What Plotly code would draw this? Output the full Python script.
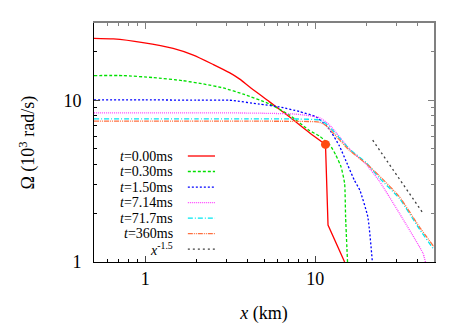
import plotly.graph_objects as go
import numpy as np

# radial profiles of the angular velocity at several times
x_t000 = [0.5, 0.65, 0.97, 1.46, 1.92, 2.52, 3.13, 3.6, 4.1, 5.37, 7.05, 9.25, 11.5, 11.9, 14.9]
y_t000 = [24.1, 23.9, 22.7, 20.9, 19.0, 16.6, 14.8, 13.5, 12.1, 9.8, 7.9, 6.3, 5.33, 1.69, 1.0]

x_t030 = [0.5, 0.74, 1.11, 1.67, 2.2, 2.88, 3.78, 5.37, 7.05, 9.25, 10.6, 12.2, 13.2, 14.2, 14.9, 15.1, 15.5]
y_t030 = [14.2, 14.2, 13.8, 13.2, 12.6, 11.9, 10.9, 9.5, 8.1, 6.5, 6.0, 5.3, 4.6, 3.87, 3.06, 1.9, 1.0]

x_t150 = [0.5, 1, 2, 3.13, 4.7, 6.15, 8.1, 10.1, 11.6, 12.5, 13.9, 15.5, 17, 18.3, 20.4, 21.7]
y_t150 = [10.05, 10.05, 10.0, 10.0, 9.45, 9.1, 8.5, 7.9, 7.0, 6.3, 5.2, 4.0, 3.2, 2.78, 1.9, 1.0]

x_t714 = [0.5, 1, 2, 4, 7.7, 10.6, 12.2, 15.9, 20, 23.9, 31.3, 43.1, 44.5]
y_t714 = [8.35, 8.35, 8.35, 8.33, 8.2, 7.8, 7.0, 5.0, 4.0, 3.15, 2.0, 1.13, 1.0]

x_t717 = [0.5, 1, 2, 4, 8, 10.5, 11.5, 12.7, 15.9, 20, 23.9, 31.3, 41, 50]
y_t717 = [7.67, 7.67, 7.67, 7.67, 7.65, 7.55, 7.2, 6.5, 5.0, 4.1, 3.3, 2.47, 1.6, 1.19]

x_t360 = [0.5, 1, 2, 4, 8, 10.5, 11.5, 12.7, 15.9, 20, 23.9, 31.3, 41, 50]
y_t360 = [7.42, 7.42, 7.42, 7.42, 7.4, 7.33, 7.0, 6.3, 4.9, 4.05, 3.4, 2.53, 1.65, 1.24]

x_pow = [21.8, 43.1]
y_pow = [5.66, 2.0]

x_mark = [11.5]
y_mark = [5.33]

labels = ["<i>t</i>=0.00ms", "<i>t</i>=0.30ms", "<i>t</i>=1.50ms", "<i>t</i>=7.14ms",
          "<i>t</i>=71.7ms", "<i>t</i>=360ms", "<i>x</i><sup>-1.5</sup>"]

series = [
    (x_t000, y_t000, "#ff0000", "solid"),
    (x_t030, y_t030, "#00e000", "3px,2px"),
    (x_t150, y_t150, "#0000ff", "2px,2px"),
    (x_t714, y_t714, "#ff40ff", "1px,1px"),
    (x_t717, y_t717, "#00e8f0", "5px,2px,1px,2px"),
    (x_t360, y_t360, "#ff7040", "5px,1px,1px,1px,1px,1px"),
    (x_pow, y_pow, "#404040", "2px,3px"),
]

FONT = "Liberation Serif, Times New Roman, serif"
tfont = dict(family=FONT, size=18, color="black")

fig = go.Figure()
n_smooth = x_t000.index(x_mark[0]) + 1
for k, (xs, ys, col, dash) in enumerate(series):
    ln = dict(color=col, width=1.3, dash=dash)
    if k == 0:
        # smooth part up to the marker, then the sharp drop drawn straight
        fig.add_trace(go.Scatter(x=xs[:n_smooth], y=ys[:n_smooth], mode="lines",
                                 showlegend=False,
                                 line=dict(ln, shape="spline", smoothing=0.6)))
        fig.add_trace(go.Scatter(x=xs[n_smooth - 1:], y=ys[n_smooth - 1:], mode="lines",
                                 showlegend=False, line=ln))
    else:
        fig.add_trace(go.Scatter(x=xs, y=ys, mode="lines", showlegend=False,
                                 line=dict(ln, shape="spline", smoothing=0.5)))

fig.add_trace(go.Scatter(x=x_mark, y=y_mark, mode="markers", showlegend=False,
                         marker=dict(color="#ff4a10", size=9)))

# dummy trace so the mirrored (grey) top/right axes get drawn
fig.add_trace(go.Scatter(x=[None], y=[None], xaxis="x2", yaxis="y2", showlegend=False))

# legend drawn gnuplot style: label on the left, sample on the right
y0, dy = 0.4435, 0.0649
for i, (lab, (xs, ys, col, dash)) in enumerate(zip(labels, series)):
    yy = y0 - i * dy
    fig.add_annotation(x=0.238, y=yy, xref="paper", yref="paper", text=lab,
                       showarrow=False, xanchor="right", yanchor="middle",
                       font=dict(family=FONT, size=14, color="black"))
    fig.add_shape(type="line", xref="paper", yref="paper",
                  x0=0.276, x1=0.356, y0=yy, y1=yy,
                  line=dict(color=col, width=1.3, dash=dash))

# y-axis title as a rotated annotation so it sits where gnuplot put it
fig.add_annotation(x=-0.197, y=0.5, xref="paper", yref="paper",
                   text="Ω (10<sup>3</sup> rad/s)", textangle=-90, showarrow=False,
                   xanchor="center", yanchor="middle", font=tfont)

x_minor = [0.5, 0.6, 0.7, 0.8, 0.9, 2, 3, 4, 5, 6, 7, 8, 9, 20, 30, 40, 50]
y_minor = [2, 3, 4, 5, 6, 7, 8, 9, 20, 30]
xr = [np.log10(0.5), np.log10(50)]
yr = [0, np.log10(30)]

fig.update_layout(
    width=463, height=324,
    margin=dict(l=94, r=29, t=23, b=62, autoexpand=False),
    plot_bgcolor="white", paper_bgcolor="white",
    font=tfont,
    xaxis=dict(type="log", range=xr, showgrid=False, zeroline=False, automargin=False,
               tickvals=[1, 10], ticktext=["1", "10"], ticks="inside", ticklen=6,
               tickfont=tfont, linecolor="black", linewidth=1, showline=True,
               minor=dict(tickvals=x_minor, ticks="inside", ticklen=3, tickcolor="black"),
               title=dict(text="<i>x</i> (km)", standoff=18, font=tfont)),
    yaxis=dict(type="log", range=yr, showgrid=False, zeroline=False, automargin=False,
               tickvals=[1, 10], ticktext=["1", "10"], ticks="inside", ticklen=6,
               tickfont=tfont, linecolor="black", linewidth=1, showline=True,
               ticklabelstandoff=8,
               minor=dict(tickvals=y_minor, ticks="inside", ticklen=3, tickcolor="black")),
    xaxis2=dict(type="log", range=xr, overlaying="x", side="top", anchor="y",
                showgrid=False, zeroline=False, showticklabels=False, automargin=False,
                tickvals=[1, 10], ticks="inside", ticklen=6, tickcolor="#808080",
                linecolor="#808080", linewidth=1.5, showline=True,
                minor=dict(tickvals=x_minor, ticks="inside", ticklen=3, tickcolor="#808080")),
    yaxis2=dict(type="log", range=yr, overlaying="y", side="right", anchor="x",
                showgrid=False, zeroline=False, showticklabels=False, automargin=False,
                tickvals=[1, 10], ticks="inside", ticklen=6, tickcolor="#808080",
                linecolor="#808080", linewidth=1.5, showline=True,
                minor=dict(tickvals=y_minor, ticks="inside", ticklen=3, tickcolor="#808080")),
)

# the page body has a default 8px margin; drop it so the figure sits at 0,0
fig.write_html("out.html", config={"displayModeBar": False},
               post_script="document.body.style.margin='0';")
